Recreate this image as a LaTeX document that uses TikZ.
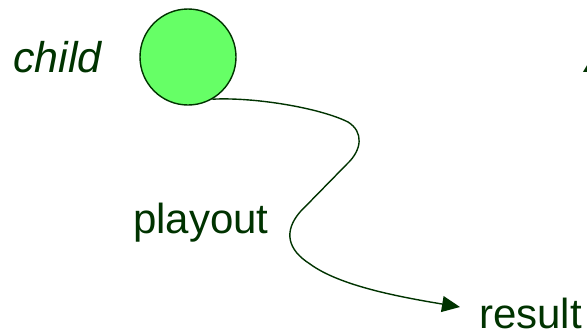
\documentclass[tikz,border=0pt]{standalone}
\usepackage{fontspec}
\setmainfont{Liberation Sans}
\usetikzlibrary{arrows.meta}
\definecolor{ink}{HTML}{003300}
\definecolor{leaf}{HTML}{66FF66}
\begin{document}
\begin{tikzpicture}[x=1pt,y=-1pt,
  label/.style={inner sep=0pt,anchor=base west,text=ink,font=\fontsize{42}{42}\selectfont},
  slanted/.style={label,font=\fontsize{43}{43}\selectfont\itshape},
  nodeball/.style={circle,draw=ink,line width=1.4pt,fill=leaf,minimum size=96pt,inner sep=0pt},
  walk/.style={draw=ink,line width=1.4pt,-{Triangle[length=18pt,width=16pt]}}]
\useasboundingbox (0,0) rectangle (587,333);
\node[nodeball] (child) at (188,57) {};
\node[slanted] (childtxt) at (13,72) {child};
\node[label] (playout) at (133,233) {playout};
\node[label] (result) at (479,328) {result};
\node[slanted] (edge) at (585,72) {A};
\coordinate (tip) at (460,307);
\draw[walk] (child.-60)
  .. controls (255,97) and (320,108) .. (348,122)
  .. controls (364,132) and (362,150) .. (347,164)
  -- (300,212)
  .. controls (283,232) and (288,250) .. (310,264)
  .. controls (340,286) and (400,297) .. (tip);
\end{tikzpicture}
\end{document}
